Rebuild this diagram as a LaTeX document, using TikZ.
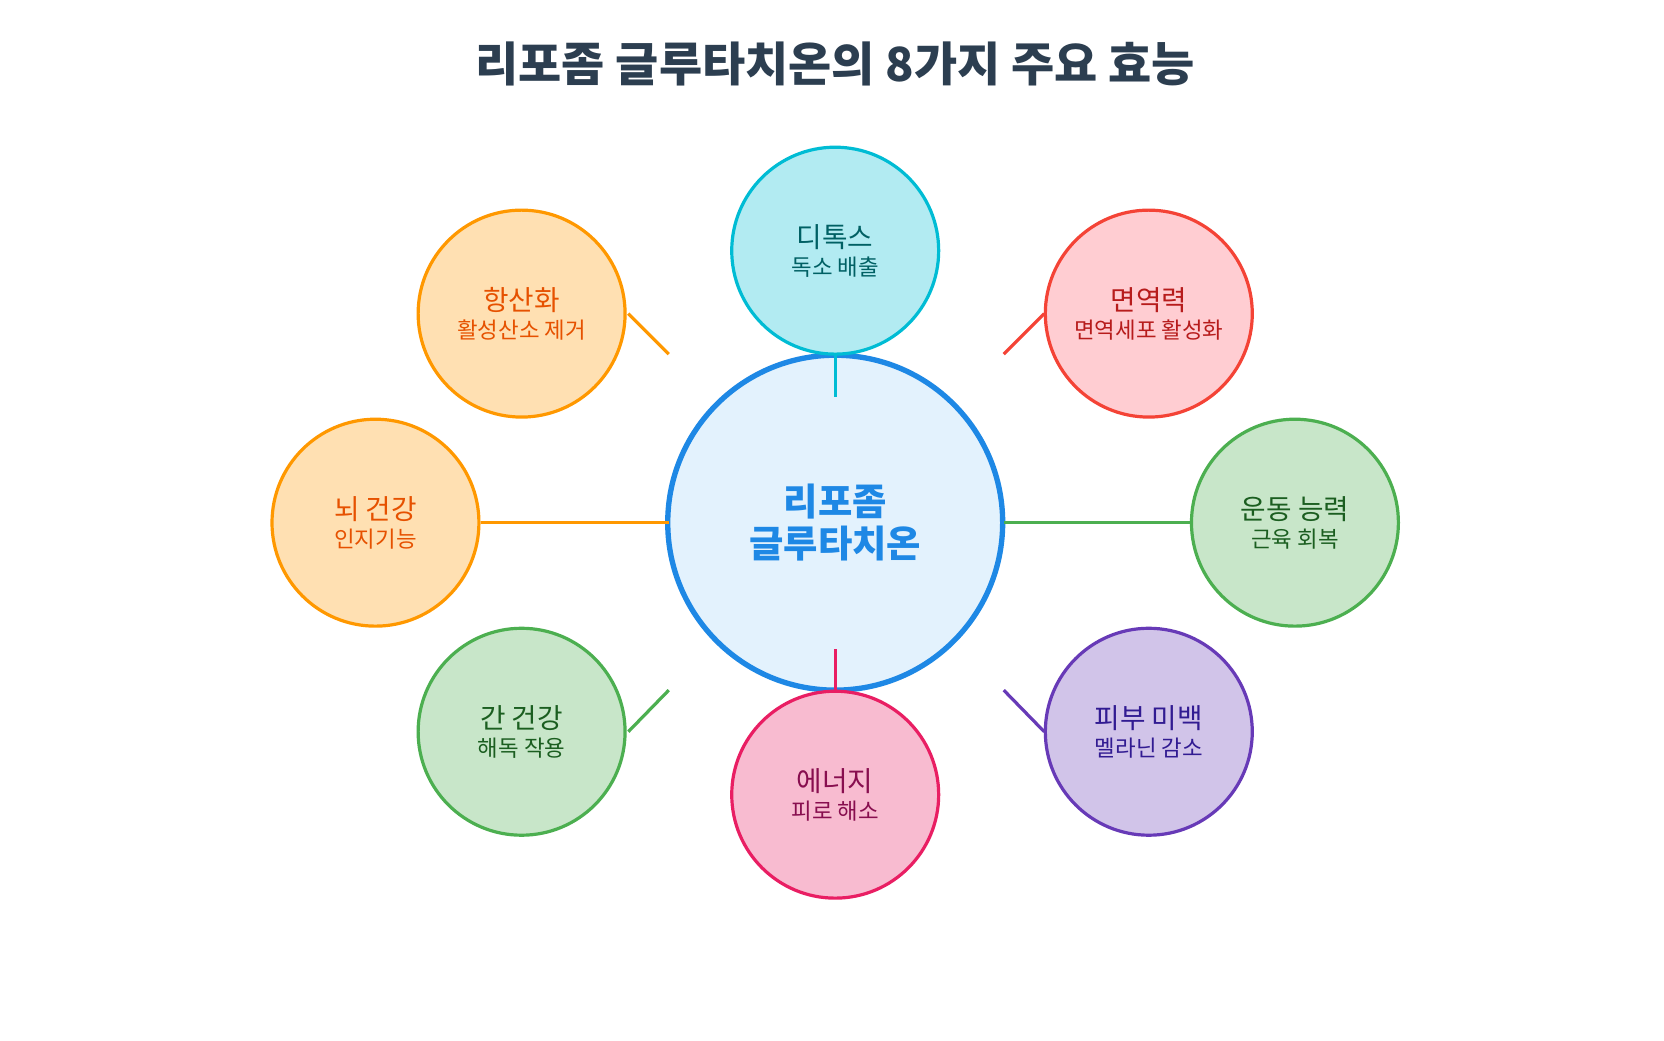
\documentclass[tikz,border=0pt]{standalone}
\usepackage{fontspec}
\setmainfont{Noto Sans CJK KR}
\begin{document}
\begin{tikzpicture}[x=1pt,y=-1pt,
 sat/.style={circle,minimum size=194pt,inner sep=0pt,line width=3pt,align=center},
 conn/.style={line width=3pt}]
\useasboundingbox[fill=white] (0,0) rectangle (1560,975);
\definecolor{tdark}{HTML}{2C3E50}
\definecolor{cblue}{HTML}{1E88E5}\definecolor{fblue}{HTML}{E3F2FD}
\definecolor{ccyan}{HTML}{00BCD4}\definecolor{fcyan}{HTML}{B2EBF2}\definecolor{tcyan}{HTML}{006064}
\definecolor{cred}{HTML}{F44336}\definecolor{fred}{HTML}{FFCDD2}\definecolor{tred}{HTML}{B71C1C}
\definecolor{cgrn}{HTML}{4CAF50}\definecolor{fgrn}{HTML}{C8E6C9}\definecolor{tgrn}{HTML}{1B5E20}
\definecolor{cpur}{HTML}{673AB7}\definecolor{fpur}{HTML}{D1C4E9}\definecolor{tpur}{HTML}{311B92}
\definecolor{cpnk}{HTML}{E91E63}\definecolor{fpnk}{HTML}{F8BBD0}\definecolor{tpnk}{HTML}{880E4F}
\definecolor{corg}{HTML}{FF9800}\definecolor{forg}{HTML}{FFE0B2}\definecolor{torg}{HTML}{E65100}
\newcommand{\sattext}[2]{{\fontsize{26}{32}\selectfont #1}\\[6pt]{\fontsize{21}{26}\selectfont #2}}
\node[font=\bfseries\fontsize{44}{50}\selectfont,text=tdark] (title) at (783,60) {리포좀 글루타치온의 8가지 주요 효능};
% connectors first
\coordinate (c1a) at (783,333); \coordinate (c1b) at (783,372);
\coordinate (c2a) at (979,294); \coordinate (c2b) at (941,332);
\coordinate (c3a) at (1117,490); \coordinate (c3b) at (941,490);
\coordinate (c4a) at (979,686); \coordinate (c4b) at (941,647);
\coordinate (c5a) at (783,647); \coordinate (c5b) at (783,608);
\coordinate (c6a) at (589,686); \coordinate (c6b) at (627,647);
\coordinate (c7a) at (451,490); \coordinate (c7b) at (627,490);
\coordinate (c8a) at (589,294); \coordinate (c8b) at (627,332);
\node[circle,minimum size=314pt,inner sep=0pt,draw=cblue,fill=fblue,line width=5pt,align=center,text=cblue,font=\bfseries\fontsize{35}{40}\selectfont] (center) at (783,490) {리포좀\\글루타치온};
\node[sat,draw=ccyan,fill=fcyan,text=tcyan] (detox) at (783,235) {\sattext{디톡스}{독소 배출}};
\node[sat,draw=cred,fill=fred,text=tred] (immune) at (1077,294) {\sattext{면역력}{면역세포 활성화}};
\node[sat,draw=cgrn,fill=fgrn,text=tgrn] (sport) at (1214,490) {\sattext{운동 능력}{근육 회복}};
\node[sat,draw=cpur,fill=fpur,text=tpur] (skin) at (1077,686) {\sattext{피부 미백}{멜라닌 감소}};
\node[sat,draw=cpnk,fill=fpnk,text=tpnk] (energy) at (783,745) {\sattext{에너지}{피로 해소}};
\node[sat,draw=cgrn,fill=fgrn,text=tgrn] (liver) at (489,686) {\sattext{간 건강}{해독 작용}};
\node[sat,draw=corg,fill=forg,text=torg] (brain) at (352,490) {\sattext{뇌 건강}{인지기능}};
\node[sat,draw=corg,fill=forg,text=torg] (anti) at (489,294) {\sattext{항산화}{활성산소 제거}};
\draw[conn,ccyan] (c1a) -- (c1b);
\draw[conn,cred] (c2a) -- (c2b);
\draw[conn,cgrn] (c3a) -- (c3b);
\draw[conn,cpur] (c4a) -- (c4b);
\draw[conn,cpnk] (c5a) -- (c5b);
\draw[conn,cgrn] (c6a) -- (c6b);
\draw[conn,corg] (c7a) -- (c7b);
\draw[conn,corg] (c8a) -- (c8b);
\end{tikzpicture}
\end{document}
